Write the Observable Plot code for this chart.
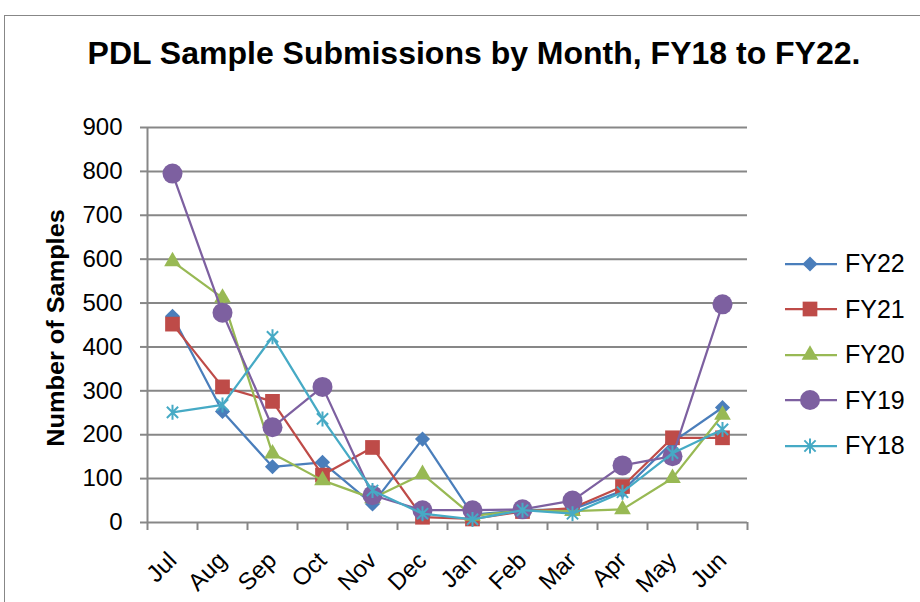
<!DOCTYPE html>
<html>
<head>
<meta charset="utf-8">
<script src="https://cdn.jsdelivr.net/npm/d3@7"></script>
<script src="https://cdn.jsdelivr.net/npm/@observablehq/plot@0.6"></script>
<style>
  body { margin: 0; background: #ffffff; }
  #wrap { position: relative; width: 920px; height: 602px; overflow: hidden; font-family: "Liberation Sans", Arial, sans-serif; color: #000; }
  #border { position: absolute; left: 4px; top: 15px; width: 960px; height: 640px; border: 1.5px solid #878787; box-sizing: border-box; }
  #chart { position: absolute; left: 0; top: 0; }
  #title { position: absolute; top: 35px; left: 474px; transform: translateX(-50%); font-weight: bold; font-size: 32px; white-space: nowrap; }
  #ylabel { position: absolute; left: 56px; top: 328px; transform: translate(-50%, -50%) rotate(-90deg) scaleX(1.1); font-weight: bold; font-size: 23px; white-space: nowrap; }
  #legend { position: absolute; left: 785px; top: 241px; }
  .row { display: flex; align-items: center; height: 45.5px; }
  .row span { font-size: 25px; margin-left: 8px; }
</style>
</head>
<body>
<div id="wrap">
  <div id="border"></div>
  <div id="chart"></div>
  <div id="title">PDL Sample Submissions by Month, FY18 to FY22.</div>
  <div id="ylabel">Number of Samples</div>
  <div id="legend"></div>
</div>
<script>
// ---- data ----
const months = ["Jul","Aug","Sep","Oct","Nov","Dec","Jan","Feb","Mar","Apr","May","Jun"];
const seriesNames = ["FY22","FY21","FY20","FY19","FY18"];
const fy22 = [470, 253, 127, 137, 42, 190, 18, 28, 30, 72, 183, 262];
const fy21 = [452, 309, 276, 108, 171, 12, 8, 25, 33, 82, 193, 193];
const fy20 = [595, 512, 157, 96, 55, 110, 15, 27, 26, 30, 101, 245];
const fy19 = [795, 478, 217, 309, 62, 28, 28, 30, 50, 130, 151, 497];
const fy18 = [251, 268, 423, 236, 73, 20, 7, 28, 20, 69, 158, 212];
const yTicks = [0, 100, 200, 300, 400, 500, 600, 700, 800, 900];

// ---- styles ----
const seriesValues = [fy22, fy21, fy20, fy19, fy18];
const colors = ["#4A7EBB", "#BE4B48", "#98B954", "#7D60A0", "#46AAC5"];
const starSymbol = {
  draw(context, size) {
    const r = Math.sqrt(size / Math.PI);
    const d = r * 0.75;
    context.moveTo(0, -r); context.lineTo(0, r);
    context.moveTo(-d, -d); context.lineTo(d, d);
    context.moveTo(-d, d); context.lineTo(d, -d);
  }
};
const symbols = [d3.symbolDiamond2, d3.symbolSquare, d3.symbolTriangle, d3.symbolCircle, starSymbol];
const radii = [6.8, 8.3, 6.2, 10, 7.5];
const gridColor = "#878787";

const records = seriesNames.map((s, si) =>
  seriesValues[si].map((v, i) => ({series: s, month: months[i], value: v}))
);

const marks = [
  Plot.ruleY(yTicks, {stroke: gridColor, strokeWidth: 2}),
  Plot.ruleX([months[0]], {dx: -25, stroke: gridColor, strokeWidth: 2}),
  Plot.ruleX(months, {x: d => d, y1: 0, y2: 0, dx: -25, insetBottom: -8, stroke: gridColor, strokeWidth: 2}),
  Plot.ruleX([months[months.length - 1]], {x: d => d, y1: 0, y2: 0, dx: 25, insetBottom: -8, stroke: gridColor, strokeWidth: 2}),
  Plot.axisY({ticks: yTicks, tickSize: 7, tickPadding: 18, stroke: gridColor, strokeWidth: 2, fill: "black", fontSize: 24, label: null}),
  Plot.axisX({tickSize: 0, tickPadding: 34, tickRotate: -45, fill: "black", fontSize: 24, label: null})
];
records.forEach((data, si) => {
  marks.push(Plot.line(data, {x: "month", y: "value", stroke: colors[si], strokeWidth: 2.25}));
  if (si === 4) {
    marks.push(Plot.dot(data, {x: "month", y: "value", symbol: symbols[si], r: radii[si], fill: "none", stroke: colors[si], strokeWidth: 2}));
  } else {
    marks.push(Plot.dot(data, {x: "month", y: "value", symbol: symbols[si], r: radii[si], fill: colors[si], stroke: "none"}));
  }
});

const chart = Plot.plot({
  width: 920,
  height: 602,
  marginLeft: 147,
  marginRight: 173,
  marginTop: 127,
  marginBottom: 80,
  x: {type: "point", domain: months, padding: 0.5},
  y: {domain: [0, 900]},
  style: {fontFamily: "Liberation Sans, Arial, sans-serif", fontSize: "22px", color: "black", background: "none", overflow: "visible"},
  marks
});
document.getElementById("chart").appendChild(chart);

// ---- legend ----
const legend = d3.select("#legend");
seriesNames.forEach((s, si) => {
  const row = legend.append("div").attr("class", "row");
  const svg = row.append("svg").attr("width", 52).attr("height", 30);
  svg.append("line").attr("x1", 0).attr("x2", 52).attr("y1", 15).attr("y2", 15)
    .attr("stroke", colors[si]).attr("stroke-width", 2.25);
  const path = d3.symbol(symbols[si], Math.PI * radii[si] * radii[si])();
  const p = svg.append("path").attr("d", path).attr("transform", "translate(25,15)");
  if (si === 4) p.attr("fill", "none").attr("stroke", colors[si]).attr("stroke-width", 2);
  else p.attr("fill", colors[si]);
  row.append("span").text(s);
});
</script>
</body>
</html>
